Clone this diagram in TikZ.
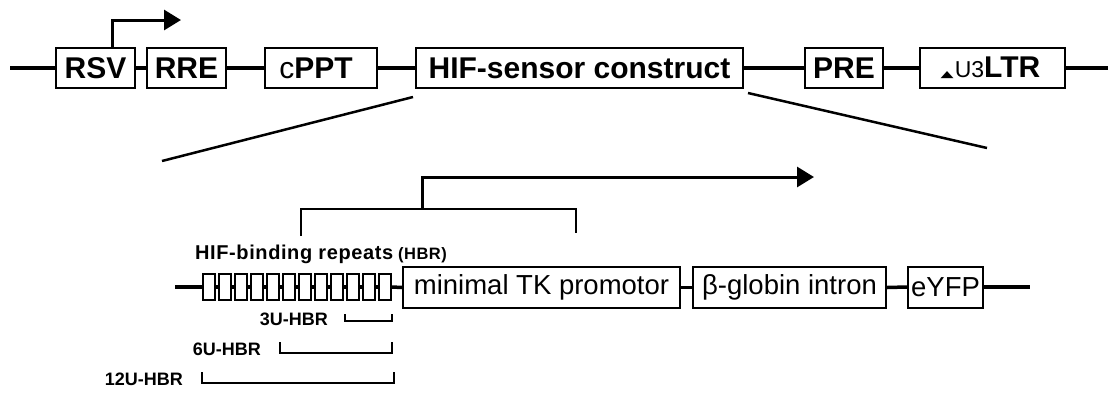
\documentclass[tikz,border=0pt]{standalone}
\usepackage{fontspec}
\setmainfont{Liberation Sans}
\newfontfamily\symfont{DejaVu Sans}
\usetikzlibrary{arrows.meta,calc}
\begin{document}
\begin{tikzpicture}[x=1pt,y=-1pt,
  dna/.style={line width=3.5pt},
  boxT/.style={draw, line width=1.8pt, minimum height=40pt, inner sep=0pt, anchor=center, font=\fontsize{30}{30}\selectfont\bfseries},
  boxB/.style={draw, line width=2pt, minimum height=41pt, inner sep=0pt, anchor=center, font=\fontsize{27.5}{27.5}\selectfont},
  rep/.style={draw, line width=2.2pt, minimum width=12pt, minimum height=26pt, inner sep=0pt},
  prom/.style={line width=3pt, -{Triangle[length=17pt,width=20pt]}},
  brk/.style={line width=2.5pt},
  lbl/.style={inner sep=0pt, font=\fontsize{18}{18}\selectfont\bfseries},
  zoomln/.style={line width=2.5pt}
]
\useasboundingbox (0,0) rectangle (1108,392);
% ---- top vector ----
\node[boxT, minimum width=79pt] (RSV) at (95.5,68) {RSV};
\node[boxT, minimum width=79pt] (RRE) at (186.5,68) {RRE};
\node[boxT, minimum width=112pt] (cPPT) at (321,68) {\hspace*{-10pt}{\mdseries c}PPT};
\node[boxT, minimum width=327pt] (HIF) at (579.5,68) {HIF-sensor construct};
\node[boxT, minimum width=145pt] (LTR) at (992.5,68) {\hspace*{-4pt}{\symfont\fontsize{17}{17}\selectfont\scalebox{1}[0.55]{▲}}\hspace{1pt}{\mdseries\fontsize{23}{23}\selectfont U3}LTR};
\node[boxT, minimum width=78pt] (PRE) at (844,68) {PRE};
\coordinate (tl) at (10,68);
\coordinate (tr) at (1108,68);
\draw[dna] (tl) -- (RSV.west);
\draw[dna] (RSV.east) -- (RRE.west);
\draw[dna] (RRE.east) -- (cPPT.west);
\draw[dna] (cPPT.east) -- (HIF.west);
\draw[dna] (HIF.east) -- (PRE.west);
\draw[dna] (PRE.east) -- (LTR.west);
\draw[dna] (LTR.east) -- (tr);
% RSV promoter arrow
\coordinate (rsvA) at (112,48);
\coordinate (rsvT) at (181,20);
\draw[prom] (rsvA) |- (rsvT);
% zoom lines
\coordinate (zl1) at (413,97);
\coordinate (zl2) at (162,161);
\coordinate (zr1) at (748,93);
\coordinate (zr2) at (987,148);
\draw[zoomln] (zl1) -- (zl2);
\draw[zoomln] (zr1) -- (zr2);
% ---- bottom construct ----
\node[boxB, minimum width=277pt] (TK) at (541.5,287.5) {minimal TK promotor};
\node[boxB, minimum width=193pt] (BG) at (789.5,287.5) {β-globin intron};
\node[boxB, minimum width=75pt] (YFP) at (945.5,287) {eYFP};
\foreach \i in {0,...,11} {
  \node[rep] (r\i) at ({209+16*\i},287) {};
}
\foreach \i [evaluate=\i as \j using int(\i+1)] in {0,...,10} {
  \draw[dna] (r\i.east) -- (r\j.west);
}
\coordinate (bl) at (175,287);
\coordinate (br) at (1030,287);
\draw[dna] (bl) -- (r0.west);
\draw[dna] (r11.east) -- (TK.west);
\draw[dna] (TK.east) -- (BG.west);
\draw[dna] (BG.east) -- (YFP.west);
\draw[dna] (YFP.east) -- (br);
% HBR label
\node[inner sep=0pt, anchor=base west] (hbrlbl) at (195,259) {\fontsize{20}{20}\selectfont\bfseries\addfontfeature{LetterSpace=3}HIF-binding repeats\hspace{5pt}\fontsize{16.5}{16.5}\selectfont(HBR)};
% promoter bracket
\coordinate (pa) at (301,236);
\coordinate (pb) at (576,233);
\coordinate (pm) at (422,209);
\coordinate (pt) at (814,177);
\draw[brk] (pa) |- (pb |- pm) -- (pb);
\draw[prom] (pm) |- (pt);
% HBR length brackets
\node[lbl, anchor=east] (l3) at (328,319) {3U-HBR};
\node[lbl, anchor=east] (l6) at (261,349) {6U-HBR};
\node[lbl, anchor=east] (l12) at (183,379) {12U-HBR};
\draw[brk] (345,314) |- (392,321) -- (392,314);
\draw[brk] (280,342) |- (392,353) -- (392,342);
\draw[brk] (202,372) |- (394,383) -- (394,372);
\end{tikzpicture}
\end{document}
